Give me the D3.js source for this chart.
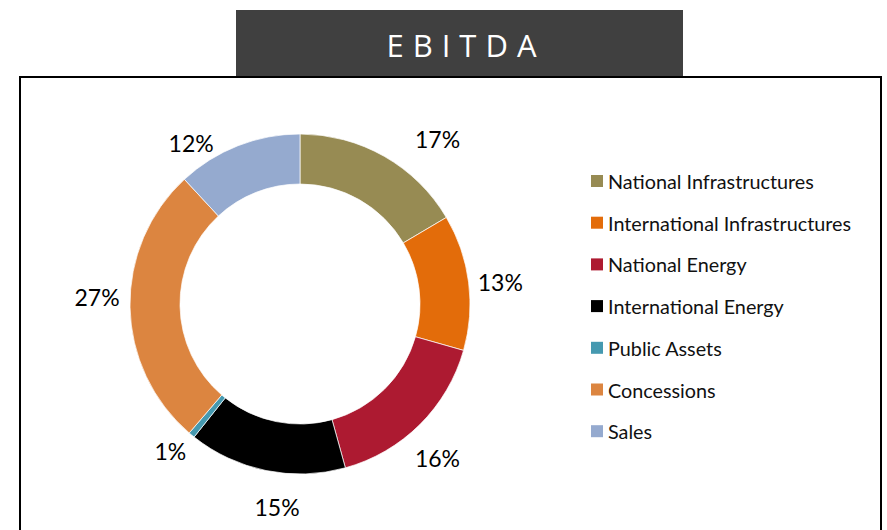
<!DOCTYPE html>
<html>
<head>
<meta charset="utf-8">
<script src="https://cdn.jsdelivr.net/npm/d3@7"></script>
<style>
  body { margin: 0; background: #fff; }
  svg { display: block; }
</style>
</head>
<body>
<div id="chart"></div>
<script>
// data
let categories = ["National Infrastructures", "International Infrastructures", "National Energy",
  "International Energy", "Public Assets", "Concessions", "Sales"]
let values = [16.5, 12.9, 16.3, 15.0, 0.6, 26.8, 11.9]
let colors = ["#978b53", "#e36c0a", "#ad1a31", "#000000", "#4599b0", "#dc8540", "#95aacf"]

// manual label nudges (px), like dragged labels in the original
let labelNudge = [[36, 13], [-3, 4], [-7, 9], [18, 2], [1, -11], [2, -11], [-34, 30]]

let W = 887, H = 530

let svg = d3.select("#chart")
  .append("svg")
  .attr("width", W)
  .attr("height", H)

// frame
svg.append("rect")
  .attr("x", 20)
  .attr("y", 77)
  .attr("width", 861)
  .attr("height", 500)
  .attr("fill", "none")
  .attr("stroke", "#000")
  .attr("stroke-width", 2)

// title box
svg.append("rect")
  .attr("x", 236)
  .attr("y", 10)
  .attr("width", 447)
  .attr("height", 66)
  .attr("fill", "#404040")

svg.append("text")
  .attr("x", 466)
  .attr("y", 57)
  .attr("text-anchor", "middle")
  .attr("fill", "#fff")
  .attr("font-family", "Open Sans")
  .attr("font-size", "31px")
  .attr("letter-spacing", "9px")
  .text("EBITDA")

// donut
let cx = 300, cy = 304, R = 170, r = 120

let pie = d3.pie().sort(null).value(d => d)
let arcs = pie(values)
let arc = d3.arc().innerRadius(r).outerRadius(R)

let g = svg.append("g").attr("transform", `translate(${cx},${cy})`)

g.selectAll("path")
  .data(arcs)
  .enter()
  .append("path")
  .attr("d", arc)
  .attr("fill", (d, i) => colors[i])
  .attr("stroke", "#fff")
  .attr("stroke-width", 0.7)

// percent labels
let labelArc = d3.arc().innerRadius(205).outerRadius(205)
g.selectAll("text.pct")
  .data(arcs)
  .enter()
  .append("text")
  .attr("class", "pct")
  .attr("x", (d, i) => labelArc.centroid(d)[0] + labelNudge[i][0])
  .attr("y", (d, i) => labelArc.centroid(d)[1] + labelNudge[i][1])
  .attr("text-anchor", "middle")
  .attr("dominant-baseline", "central")
  .attr("font-family", "Lato")
  .attr("font-size", "23px")
  .attr("fill", "#000")
  .text(d => Math.round(d.value) + "%")

// legend
let legend = svg.append("g").attr("transform", "translate(591,181)")
let row = legend.selectAll("g")
  .data(categories)
  .enter()
  .append("g")
  .attr("transform", (d, i) => `translate(0,${i * 41.7})`)

row.append("rect")
  .attr("x", 0)
  .attr("y", -6)
  .attr("width", 12)
  .attr("height", 12)
  .attr("fill", (d, i) => colors[i])

row.append("text")
  .attr("x", 17)
  .attr("y", 0)
  .attr("dominant-baseline", "central")
  .attr("font-family", "Lato")
  .attr("font-size", "19.8px")
  .attr("fill", "#111")
  .text(d => d)
</script>
</body>
</html>
